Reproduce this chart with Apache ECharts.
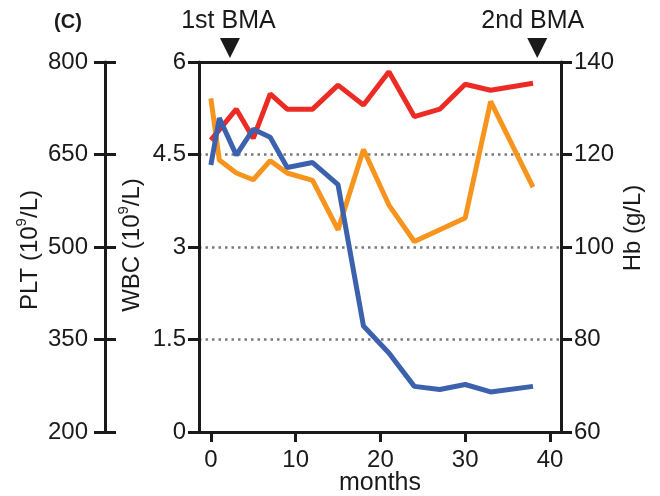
<!DOCTYPE html>
<html>
<head>
<meta charset="utf-8">
<script src="https://cdn.jsdelivr.net/npm/echarts@6/dist/echarts.min.js"></script>
<style>html,body{margin:0;padding:0;background:#fff}#c{width:660px;height:496px}</style>
</head>
<body>
<div id="c"></div>
<script>
// ---- data ----
const xTicks = [0, 10, 20, 30, 40];
const wbcTicks = [0, 1.5, 3, 4.5, 6];
const pltTicks = [200, 350, 500, 650, 800];
const hbTicks = [60, 80, 100, 120, 140];

const wbcMonths = [0, 1, 3, 5, 7, 9, 12, 15, 18, 21, 24, 27, 30, 33, 38];
const wbcValues = [4.33, 5.09, 4.49, 4.91, 4.78, 4.29, 4.37, 4.01, 1.72, 1.28, 0.74, 0.69, 0.77, 0.65, 0.74];

const pltMonths = [0, 1, 3, 5, 7, 9, 12, 15, 18, 21, 24, 30, 33, 38];
const pltValues = [741, 641, 620, 609, 640, 620, 608, 528, 658, 568, 509, 547, 736, 597];

const hbMonths = [0, 3, 5, 7, 9, 12, 15, 18, 21, 24, 27, 30, 33, 38];
const hbValues = [123.1, 129.8, 123.5, 133.1, 129.8, 129.8, 135.0, 130.7, 137.9, 128.2, 129.8, 135.2, 133.9, 135.4];

const bmaMonths = [2.25, 38.5];
const bmaLabels = ['1st BMA', '2nd BMA'];
const panelLabel = '(C)';

// ---- chart ----
const FONT = "'Liberation Sans', Arial, Helvetica, sans-serif";
const INK = '#1a1a1a';
const zip = (xs, ys) => xs.map((x, i) => [x, ys[i]]);

const axisLine = { show: true, onZero: false, lineStyle: { color: INK, width: 3 } };
const tickStyle = { color: INK, width: 3 };
const labelStyle = { fontSize: 24, color: INK, fontFamily: FONT };

const chart = echarts.init(document.getElementById('c'));
chart.setOption({
  animation: false,
  backgroundColor: '#fff',
  grid: { left: 199, right: 99, top: 62, bottom: 64, containLabel: false, outerBoundsMode: 'none', show: false },
  xAxis: [{
    type: 'value', min: -1.4, max: 41.3, position: 'bottom',
    axisLine: axisLine,
    axisTick: { show: true, length: 10, lineStyle: tickStyle, customValues: xTicks },
    axisLabel: Object.assign({ margin: 16, customValues: xTicks }, labelStyle),
    splitLine: { show: false },
    name: 'months', nameLocation: 'middle', nameGap: 39, nameMoveOverlap: false,
    nameTextStyle: { fontSize: 25, color: INK, fontFamily: FONT }
  }, { // top frame line
    type: 'value', min: -1.4, max: 41.3, position: 'top', z: 5,
    axisLine: axisLine, axisTick: { show: false }, axisLabel: { show: false }, splitLine: { show: false }
  }],
  yAxis: [
    { // WBC
      type: 'value', position: 'left', offset: 0, min: wbcTicks[0], max: wbcTicks[wbcTicks.length - 1], interval: 1.5,
      axisLine: axisLine,
      axisTick: { show: true, length: 11, lineStyle: tickStyle },
      axisLabel: Object.assign({ margin: 13 }, labelStyle),
      splitLine: { show: true, showMinLine: false, showMaxLine: false, lineStyle: { color: '#7a7a7a', width: 2.5, type: [2.5, 4] } }
    },
    { // PLT
      type: 'value', position: 'left', offset: 94, min: pltTicks[0], max: pltTicks[pltTicks.length - 1], interval: 150,
      axisLine: axisLine,
      axisTick: { show: true, length: 11, lineStyle: tickStyle },
      axisLabel: Object.assign({ margin: 17 }, labelStyle),
      splitLine: { show: false }
    },
    { // PLT inner ticks (crossing ticks)
      type: 'value', position: 'left', offset: 94, min: pltTicks[0], max: pltTicks[pltTicks.length - 1], interval: 150,
      axisLine: { show: false, onZero: false },
      axisTick: { show: true, inside: true, length: 11, lineStyle: tickStyle },
      axisLabel: { show: false },
      splitLine: { show: false }
    },
    { // Hb
      type: 'value', position: 'right', offset: 0, min: hbTicks[0], max: hbTicks[hbTicks.length - 1], interval: 20,
      axisLine: axisLine,
      axisTick: { show: true, length: 11, lineStyle: tickStyle },
      axisLabel: Object.assign({ margin: 13 }, labelStyle),
      splitLine: { show: false }
    }
  ],
  series: [
    { name: 'PLT', type: 'line', yAxisIndex: 1, data: zip(pltMonths, pltValues), showSymbol: false, symbol: 'none',
      lineStyle: { color: '#f7941d', width: 5 }, z: 2 },
    { name: 'Hb', type: 'line', yAxisIndex: 3, data: zip(hbMonths, hbValues), showSymbol: false, symbol: 'none',
      lineStyle: { color: '#ec2b24', width: 5 }, z: 3 },
    { name: 'WBC', type: 'line', yAxisIndex: 0, data: zip(wbcMonths, wbcValues), showSymbol: false, symbol: 'none',
      lineStyle: { color: '#3c62ae', width: 5 }, z: 4 }
  ]
});

// ---- annotations (positions from the x scale) ----
const graphics = [];
const textOffsets = [-1.5, -4.5];
bmaMonths.forEach((m, i) => {
  const px = chart.convertToPixel({ xAxisIndex: 0 }, m);
  graphics.push({ type: 'polygon', shape: { points: [[px - 10, 38], [px + 10, 38], [px, 58]] }, style: { fill: INK } });
  graphics.push({ type: 'text', x: px + textOffsets[i], y: 21,
    style: { text: bmaLabels[i], fontSize: 25, fontFamily: FONT, fill: INK, align: 'center', verticalAlign: 'middle' } });
});
graphics.push({ type: 'text', x: 68, y: 22,
  style: { text: panelLabel, fontSize: 20, fontWeight: 'bold', fontFamily: FONT, fill: INK, align: 'center', verticalAlign: 'middle' } });

const rich = {
  a: { fontSize: 24, fontFamily: FONT, fill: INK, color: INK, lineHeight: 28, verticalAlign: 'bottom' },
  s: { fontSize: 15, fontFamily: FONT, fill: INK, color: INK, lineHeight: 28, verticalAlign: 'top' }
};
graphics.push({ type: 'text', x: 28, y: 250, rotation: Math.PI / 2,
  style: { text: '{a|PLT (10}{s|9}{a|/L)}', rich: rich, align: 'center', verticalAlign: 'middle' } });
graphics.push({ type: 'text', x: 130, y: 245, rotation: Math.PI / 2,
  style: { text: '{a|WBC (10}{s|9}{a|/L)}', rich: rich, align: 'center', verticalAlign: 'middle' } });
graphics.push({ type: 'text', x: 633, y: 228, rotation: Math.PI / 2,
  style: { text: 'Hb (g/L)', fontSize: 24, fontFamily: FONT, fill: INK, align: 'center', verticalAlign: 'middle' } });

chart.setOption({ graphic: graphics });
</script>
</body>
</html>
